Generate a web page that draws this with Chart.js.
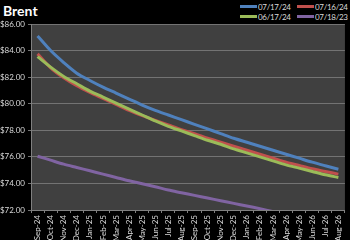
<!DOCTYPE html>
<html>
<head>
<meta charset="utf-8">
<script src="https://cdn.jsdelivr.net/npm/chart.js@4.4.1/dist/chart.umd.min.js"></script>
<style>
  html,body{margin:0;padding:0;background:#000;}
  #wrap{position:relative;width:350px;height:240px;overflow:hidden;}
  #title{position:absolute;left:3px;top:2px;color:#fff;font:bold 14px Lato,sans-serif;}
  .leg{position:absolute;color:#d9d9d9;font:8px Lato,sans-serif;letter-spacing:-0.3px;height:10px;line-height:10px;white-space:nowrap;}
  .leg span{display:inline-block;width:17px;height:3px;vertical-align:middle;margin-right:1px;position:relative;top:-1px;}
  canvas{position:absolute;left:0;top:0;}
</style>
</head>
<body>
<div id="wrap">
  <div id="title">Brent</div>
  <div class="leg" style="left:240px;top:2px"><span style="background:#4f81bd"></span>07/17/24</div>
  <div class="leg" style="left:297px;top:2px"><span style="background:#c0504d"></span>07/16/24</div>
  <div class="leg" style="left:240px;top:12px"><span style="background:#9bbb59"></span>06/17/24</div>
  <div class="leg" style="left:297px;top:12px"><span style="background:#8064a2"></span>07/18/23</div>
  <canvas id="c" width="350" height="240"></canvas>
</div>
<script>
// --- DATI ---
const mesi = ["Sep-24","Oct-24","Nov-24","Dec-24","Jan-25","Feb-25","Mar-25","Apr-25","May-25","Jun-25","Jul-25","Aug-25",
  "Sep-25","Oct-25","Nov-25","Dec-25","Jan-26","Feb-26","Mar-26","Apr-26","May-26","Jun-26","Jul-26","Aug-26"];
const curva240717 = [85.10,84.00,83.10,82.30,81.75,81.25,80.80,80.35,79.90,79.50,79.15,78.80,
  78.45,78.10,77.75,77.40,77.10,76.80,76.50,76.20,75.90,75.60,75.33,75.07];
const curva240716 = [83.75,82.70,81.95,81.35,80.85,80.40,79.95,79.50,79.10,78.75,78.40,78.05,
  77.75,77.40,77.10,76.80,76.50,76.20,75.90,75.60,75.35,75.10,74.90,74.70];
const curva240617 = [83.55,82.75,82.05,81.50,80.95,80.50,80.05,79.60,79.15,78.70,78.30,77.95,
  77.60,77.25,76.95,76.60,76.30,76.00,75.70,75.40,75.15,74.90,74.65,74.45];
const curva230718 = [76.05,75.75,75.45,75.20,74.95,74.70,74.45,74.20,73.98,73.75,73.50,73.30,
  73.10,72.90,72.70,72.50,72.30,72.10,71.88,71.68,71.50,71.30,71.10,70.90];
const yTicks = [72,74,76,78,80,82,84,86];

// sfondo area grafico
const plotBg = {
  id:"plotBg",
  beforeDraw(chart){
    const a = chart.chartArea, ctx = chart.ctx;
    ctx.save();
    ctx.fillStyle = "#404040";
    ctx.fillRect(a.left, a.top, a.right-a.left, a.bottom-a.top);
    ctx.restore();
  }
};

function serie(label, data, color){
  return {label, data, borderColor:color, backgroundColor:color, borderWidth:3,
    pointRadius:0, tension:0.3, fill:false};
}

new Chart(document.getElementById("c"),{
  type:"line",
  data:{
    labels: mesi,
    datasets:[
      serie("07/18/23", curva230718, "#8064a2"),
      serie("06/17/24", curva240617, "#9bbb59"),
      serie("07/16/24", curva240716, "#c0504d"),
      serie("07/17/24", curva240717, "#4f81bd")
    ]
  },
  options:{
    responsive:false,
    animation:false,
    layout:{padding:{top:24,right:1,left:0,bottom:0}},
    plugins:{legend:{display:false}, title:{display:false}, tooltip:{enabled:false}},
    scales:{
      x:{
        offset:true,
        grid:{display:true, drawOnChartArea:false, offset:true, color:"#808080", tickLength:3},
        border:{color:"#808080"},
        ticks:{color:"#d9d9d9", font:{family:"Lato", size:8}, minRotation:90, maxRotation:90, padding:2, autoSkip:false},
        afterFit:s=>{ s.height = 30; }
      },
      y:{
        min:72, max:86,
        afterBuildTicks:s=>{ s.ticks = yTicks.map(v=>({value:v})); },
        grid:{color:"#737373", tickLength:3, lineWidth:1},
        border:{color:"#808080"},
        ticks:{color:"#d9d9d9", font:{family:"Lato", size:8}, padding:3, callback:v=>"$"+v.toFixed(2)},
        afterFit:s=>{ s.width = 31; }
      }
    }
  },
  plugins:[plotBg]
});
</script>
</body>
</html>
